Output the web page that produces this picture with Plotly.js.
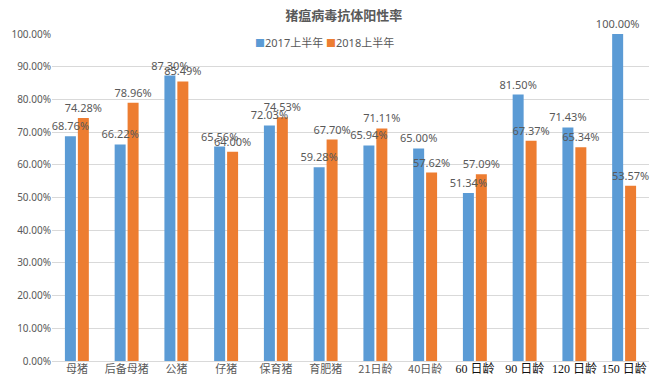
<!DOCTYPE html>
<html><head><meta charset="utf-8">
<script src="https://cdn.plot.ly/plotly-3.0.1.min.js"></script>
<style>body{margin:0;padding:0;background:#fff}#c{width:650px;height:389px}</style>
</head><body><div id="c"></div>
<script>
const categories = ['母猪','后备母猪','公猪','仔猪','保育猪','育肥猪','21日龄','40日龄','60 日龄','90 日龄','120 日龄','150 日龄'];
const serifLabels = [false,false,false,false,false,false,false,false,true,true,true,true];
const series2017 = [68.76, 66.22, 87.30, 65.56, 72.03, 59.28, 65.94, 65.00, 51.34, 81.50, 71.43, 100.00];
const series2018 = [74.28, 78.96, 85.49, 64.00, 74.53, 67.70, 71.11, 57.62, 57.09, 67.37, 65.34, 53.57];
const seriesNames = ['2017上半年','2018上半年'];
const colors = ['#5B9BD5','#ED7D31'];

const tickText = categories.map((c,i)=> serifLabels[i]
  ? `<span style="font-family:'Liberation Serif','Noto Sans CJK SC';fill:#111;font-size:12px">${c}</span>`
  : c);

function barTrace(vals, name, color, grp){
  return {type:'bar', x:categories, y:vals.map(v=>v/100), name:name, offsetgroup:grp,
    marker:{color:color}, hoverinfo:'none', showlegend:false};
}
function textTrace(vals, name, grp){
  return {type:'bar', x:categories, y:vals.map(v=>v/100), name:name+'_t', offsetgroup:grp,
    marker:{color:'rgba(0,0,0,0)'}, showlegend:false, hoverinfo:'none',
    text: vals.map(v=>v.toFixed(2)+'%'), textposition:'outside',
    textfont:{family:'Noto Sans, Noto Sans CJK SC', size:11, color:'#595959'},
    constraintext:'none', cliponaxis:false};
}
const data = [
  barTrace(series2017, seriesNames[0], colors[0], 'a'),
  barTrace(series2018, seriesNames[1], colors[1], 'b'),
  textTrace(series2017, seriesNames[0], 'a'),
  textTrace(series2018, seriesNames[1], 'b')
];

const legendText = seriesNames.map((n,i)=>
  `<span style="color:${colors[i]};font-size:10px">■</span>${n}`).join(' ');

const layout = {
  width:650, height:389,
  margin:{l:52, r:1, t:34, b:28},
  paper_bgcolor:'#fff', plot_bgcolor:'#fff',
  barmode:'group', bargap:0.48, bargroupgap:0.15,
  title:{text:'<b>猪瘟病毒抗体阳性率</b>', x:0.529, xanchor:'center', y:0.959, yanchor:'middle',
    font:{family:'Noto Sans CJK SC', size:13, color:'#595959'}},
  showlegend:false,
  annotations:[{xref:'paper', yref:'paper', x:0.456, y:0.9755, xanchor:'center', yanchor:'middle',
    showarrow:false, text:legendText,
    font:{family:'Noto Sans, Noto Sans CJK SC', size:11, color:'#595959'}}],
  xaxis:{type:'category', tickvals:categories, ticktext:tickText, showgrid:false, showline:false,
    ticks:'', tickfont:{family:'Noto Sans CJK SC', size:11, color:'#595959'}, fixedrange:true},
  yaxis:{range:[0,1], dtick:0.1, tickformat:'.2%', gridcolor:'#d9d9d9', gridwidth:1,
    zeroline:true, zerolinecolor:'#d9d9d9', showline:false, ticks:'',
    tickfont:{family:'Noto Sans', size:10, color:'#595959'}, fixedrange:true}
};
Plotly.newPlot('c', data, layout, {displayModeBar:false, staticPlot:true});
</script></body></html>
